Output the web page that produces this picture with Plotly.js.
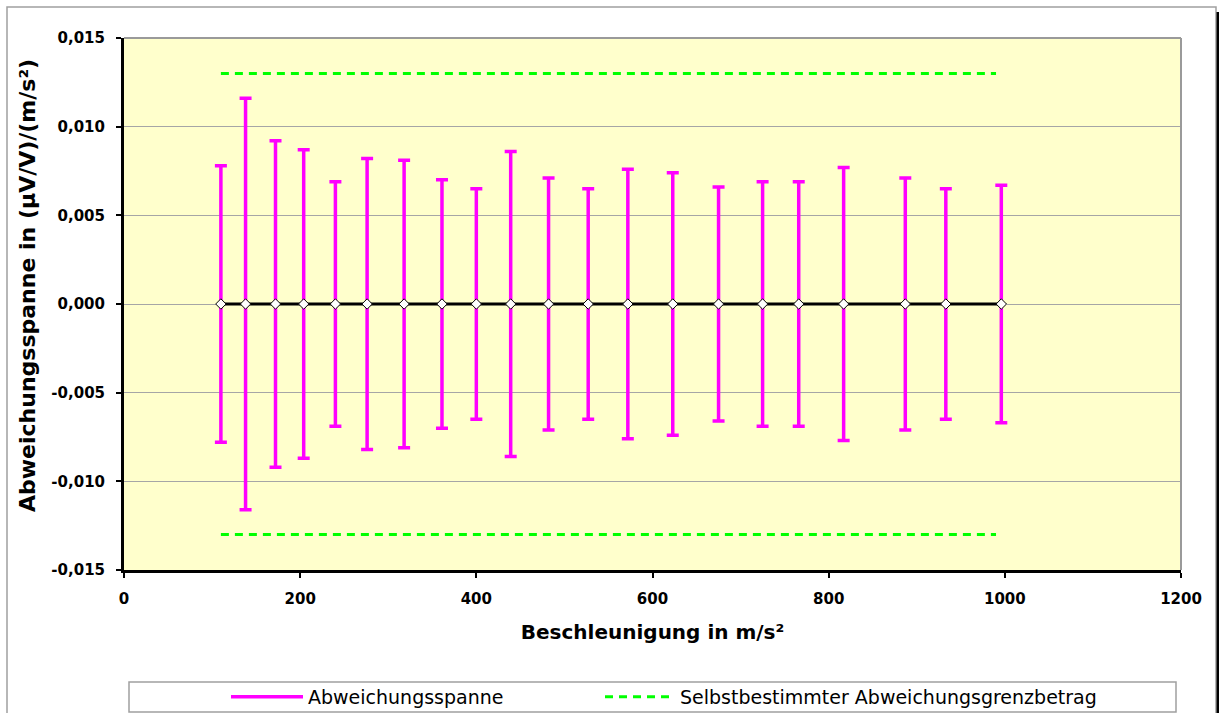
<!DOCTYPE html>
<html>
<head>
<meta charset="utf-8">
<script src="https://cdn.plot.ly/plotly-3.0.1.min.js"></script>
<style>
html,body{margin:0;padding:0;background:#fff;}
#chart{width:1219px;height:713px;}
</style>
</head>
<body>
<div id="chart"></div>
<script>
// Beschleunigung in m/s²
const accel = [110, 138, 172, 204, 240, 276, 318, 361, 400, 439, 482, 527, 572, 623, 675, 725, 766, 817, 887, 933, 996];
// Abweichung (Mittelwert) – alle 0
const deviation = [0, 0, 0, 0, 0, 0, 0, 0, 0, 0, 0, 0, 0, 0, 0, 0, 0, 0, 0, 0, 0];
// Abweichungsspanne (±)
const span = [0.0078, 0.0116, 0.0092, 0.0087, 0.0069, 0.0082, 0.0081, 0.0070, 0.0065, 0.0086, 0.0071, 0.0065, 0.0076, 0.0074, 0.0066, 0.0069, 0.0069, 0.0077, 0.0071, 0.0065, 0.0067];
// Selbstbestimmter Abweichungsgrenzbetrag
const limitX = [110, 990];
const limitValue = 0.013;
// Achsenbeschriftungen
const xTickVals = [0, 200, 400, 600, 800, 1000, 1200];
const xTickLabels = ['0', '200', '400', '600', '800', '1000', '1200'];
const yTickVals = [-0.015, -0.010, -0.005, 0, 0.005, 0.010, 0.015];
const yTickLabels = ['-0,015', '-0,010', '-0,005', '0,000', '0,005', '0,010', '0,015'];
const yTitle = 'Abweichungsspanne in (µV/V)/(m/s²)';
const xTitle = 'Beschleunigung in m/s²';

const MAG = '#FF00FF';
const GRN = '#00FF00';
const FONT_B = 'DejaVu Sans, Verdana, sans-serif';

const limX = [limitX[0], limitX[1], null, limitX[0], limitX[1]];
const limY = [limitValue, limitValue, null, -limitValue, -limitValue];

const traces = [
  {
    type: 'scatter', mode: 'lines', x: limX, y: limY,
    name: 'Selbstbestimmter Abweichungsgrenzbetrag',
    line: {color: GRN, width: 3, dash: '8px,6px'},
    legend: 'legend2', showlegend: true, hoverinfo: 'skip'
  },
  {
    type: 'scatter', mode: 'markers', x: accel, y: deviation,
    marker: {size: 1, opacity: 0},
    error_y: {type: 'data', array: span, visible: true, color: MAG, thickness: 3.5, width: 6},
    showlegend: false, name: 'Abweichungsspanne'
  },
  {
    type: 'scatter', mode: 'lines+markers', x: accel, y: deviation,
    line: {color: '#000000', width: 3},
    marker: {symbol: 'diamond', size: 8, color: '#FFFFFF', line: {color: '#000000', width: 1}},
    showlegend: false, name: 'Mittelwert'
  },
  {
    type: 'scatter', mode: 'lines', x: [null], y: [null],
    name: 'Abweichungsspanne',
    line: {color: MAG, width: 3.5},
    legend: 'legend', showlegend: true
  }
];

const W = 1219, H = 713;
const PW = 1057, PH = 532, ML = 124, MT = 38;
function px(x) { return (x - ML) / PW; }
function py(y) { return (MT + PH - y) / PH; }
function cx(x) { return x / W; }
function cy(y) { return (H - y) / H; }

const layout = {
  width: W, height: H,
  margin: {l: 124, r: 38, t: 38, b: 143, autoexpand: false},
  paper_bgcolor: '#FFFFFF',
  plot_bgcolor: '#FFFFCC',
  separators: ',.',
  showlegend: true,
  xaxis: {
    range: [0, 1200],
    tickvals: xTickVals, ticktext: xTickLabels,
    showgrid: false, zeroline: false,
    showline: true, linecolor: '#000000', linewidth: 3,
    ticks: 'outside', ticklen: 5, tickwidth: 2, tickcolor: '#000000',
    ticklabelstandoff: 8,
    tickfont: {family: FONT_B, size: 15, color: '#000000', weight: 'bold'},
    title: {text: xTitle, standoff: 18,
            font: {family: FONT_B, size: 20, color: '#000000', weight: 'bold'}}
  },
  yaxis: {
    range: [-0.015, 0.015],
    tickvals: yTickVals, ticktext: yTickLabels,
    showgrid: true, gridcolor: '#A6A6A6', gridwidth: 1,
    zeroline: false,
    showline: true, linecolor: '#000000', linewidth: 3,
    ticks: 'outside', ticklen: 5, tickwidth: 2, tickcolor: '#000000',
    ticklabelstandoff: 8,
    tickfont: {family: FONT_B, size: 15, color: '#000000', weight: 'bold'}
  },
  annotations: [
    {text: yTitle, xref: 'paper', yref: 'paper', x: px(27), y: py(286),
     xanchor: 'center', yanchor: 'middle', textangle: -90, showarrow: false,
     font: {family: FONT_B, size: 22, color: '#000000', weight: 'bold'}}
  ],
  legend: {
    xref: 'container', yref: 'container',
    x: cx(226), y: cy(697), xanchor: 'left', yanchor: 'middle',
    orientation: 'h', bgcolor: 'rgba(0,0,0,0)', borderwidth: 0,
    itemwidth: 72,
    font: {family: FONT_B, size: 19, color: '#000000'}
  },
  legend2: {
    xref: 'container', yref: 'container',
    x: cx(600), y: cy(697), xanchor: 'left', yanchor: 'middle',
    orientation: 'h', bgcolor: 'rgba(0,0,0,0)', borderwidth: 0,
    itemwidth: 70,
    font: {family: FONT_B, size: 19, color: '#000000'}
  },
  shapes: [
    // outer chart frame
    {type: 'rect', xref: 'paper', yref: 'paper', x0: px(7), x1: px(1216), y0: py(716), y1: py(7),
     line: {color: '#A0A0A0', width: 1.5}, fillcolor: 'rgba(0,0,0,0)', layer: 'below'},
    {type: 'line', xref: 'paper', yref: 'paper', x0: px(1218), x1: px(1218), y0: py(716), y1: py(12),
     line: {color: '#000000', width: 3}},
    // plot area top/right border
    {type: 'line', xref: 'paper', yref: 'paper', x0: 0, x1: 1, y0: 1, y1: 1,
     line: {color: '#9A9A9A', width: 2}},
    {type: 'line', xref: 'paper', yref: 'paper', x0: 1, x1: 1, y0: 0, y1: 1,
     line: {color: '#9A9A9A', width: 2}},
    // legend box
    {type: 'rect', xref: 'paper', yref: 'paper', x0: px(129), x1: px(1176), y0: py(712), y1: py(682),
     line: {color: '#A0A0A0', width: 1.5}, fillcolor: 'rgba(0,0,0,0)'}
  ]
};

Plotly.newPlot('chart', traces, layout, {displayModeBar: false, responsive: false});
</script>
</body>
</html>
